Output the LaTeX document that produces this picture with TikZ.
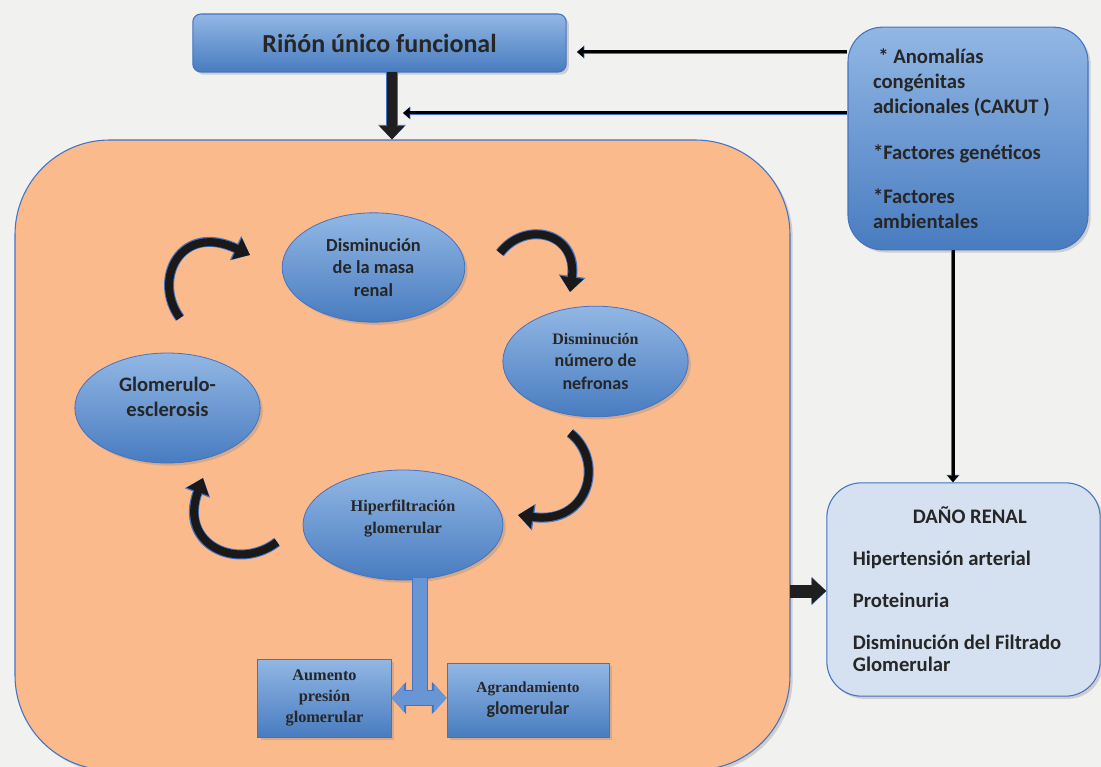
\documentclass[tikz,border=0pt]{standalone}
\usepackage{fontspec}
\setmainfont{Carlito}
\newfontfamily\timesbold{Liberation Serif}
\usepackage{xcolor}
\usepackage{tikz}
\usetikzlibrary{arrows.meta,shapes.geometric,shadows}
\definecolor{bluetop}{RGB}{146,183,228}
\definecolor{bluebot}{RGB}{72,124,192}
\definecolor{blueedge}{RGB}{68,114,196}
\definecolor{barblue}{RGB}{104,150,212}
\definecolor{peach}{RGB}{251,186,140}
\definecolor{paleblue}{RGB}{213,225,240}
\definecolor{paper}{RGB}{241,241,240}
\definecolor{ink}{RGB}{38,38,38}
\newcommand{\normalspaces}{\spaceskip=0pt\xspaceskip=0pt\relax}

\begin{document}
\begin{tikzpicture}[x=0.75pt,y=0.75pt,yscale=-1,xscale=1,
  every node/.style={execute at begin node=\normalspaces},
  softshadow/.style={drop shadow={shadow xshift=2pt,shadow yshift=-2pt,opacity=0.3}},
  bluebox/.style={draw=blueedge,line width=0.8pt,top color=bluetop,bottom color=bluebot,text=ink,softshadow},
  cyclestate/.style={ellipse,bluebox,line width=0.6pt,inner sep=1pt,align=center,font=\bfseries},
  effectbox/.style={bluebox,line width=0.6pt,inner sep=1pt,align=center},
  thinarrow/.style={draw=black,line width=2.25pt,-{Triangle[length=5pt,width=8pt]},
    preaction={draw=blueedge,line width=3.3pt,-{Triangle[length=5.5pt,width=9.5pt]}}},
  blockarrow/.style={draw=black!88,line width=7.5pt,-{Triangle[length=10pt,width=18pt]},
    preaction={draw=blueedge,line width=9pt,-{Triangle[length=11pt,width=20.5pt]}}},
  cyclearrow/.style={draw=black!90,line width=6pt,-{Triangle[length=11pt,width=17pt]},
    preaction={draw=blueedge,line width=7.5pt,-{Triangle[length=12pt,width=19.5pt]}}}
]
\clip (0,0) rectangle (1101,767);
%Background
\fill[paper] (0,0) rectangle (1101,767);

%Rounded Rect [title]
\node[bluebox,rounded corners=6pt,minimum width=280pt,minimum height=43.5pt,
  font=\bfseries\fontsize{19.5}{23}\selectfont] (rinon) at (379.5,43) {Riñón único funcional};
%Rounded Rect [factors]
\node[bluebox,rounded corners=26pt,minimum width=180pt,minimum height=167pt,text width=142.5pt,
  inner xsep=18.75pt,align=left,font=\bfseries\fontsize{15.5}{18.9}\selectfont] (factores) at (968,138.5)
  {\hspace*{4pt}* Anomalías\\ congénitas\\ adicionales (CAKUT )\\[15.6pt] *Factores genéticos\\[14pt] *Factores\\ ambientales};
%Rounded Rect [cycle]
\node[draw=blueedge,line width=0.8pt,fill=peach,rounded corners=71pt,minimum width=581.25pt,
  minimum height=472.5pt,softshadow] (cycle) at (402.5,455) {};
%Rounded Rect [damage]
\node[draw=blueedge,line width=0.8pt,fill=paleblue,rounded corners=26pt,minimum width=205pt,minimum height=160pt,
  text width=166pt,inner xsep=19.5pt,align=left,text=ink,softshadow,
  font=\bfseries\fontsize{15.5}{16.5}\selectfont] (dano) at (963.5,589.5)
  {\hspace*{45pt}DAÑO RENAL\\[15pt] Hipertensión arterial\\[15pt] Proteinuria\\[15pt] Disminución del Filtrado\\ Glomerular};

%Ellipses
\node[cyclestate,minimum width=137pt,minimum height=82pt,font=\bfseries\fontsize{13.8}{16.9}\selectfont] (masa) at (373.5,267.5)
  {Disminución\\ de la masa\\ renal};
\node[cyclestate,minimum width=139pt,minimum height=83pt,font=\bfseries\fontsize{13.5}{16.9}\selectfont] (nefronas) at (595.5,361.5)
  {{\timesbold\fontsize{12}{16.9}\selectfont Disminución}\\ número de\\ nefronas};
\node[cyclestate,minimum width=139pt,minimum height=82.5pt,font=\bfseries\fontsize{15.4}{18.75}\selectfont] (glomesc) at (167.5,408)
  {Glomerulo-\\ esclerosis\\[-2pt]\mbox{}};
\node[cyclestate,minimum width=150pt,minimum height=82.5pt,font=\timesbold\bfseries\fontsize{12.2}{16.5}\selectfont] (hiperf) at (403,525)
  {Hiperfiltración\\ glomerular\\[-4pt]\mbox{}};

%Rectangles
\node[effectbox,minimum width=100pt,minimum height=58.5pt,font=\timesbold\bfseries\fontsize{12.2}{16}\selectfont] (presion) at (324.5,698)
  {Aumento\\ presión\\ glomerular};
\node[effectbox,minimum width=121.5pt,minimum height=55.5pt,font=\bfseries\fontsize{13.6}{16.5}\selectfont] (agrand) at (528,700)
  {{\timesbold\fontsize{11.5}{16.5}\selectfont Agrandamiento}\\ glomerular};

%Coordinates
\coordinate (upend) at (577,52);
\coordinate (midend) at (403,113);
\coordinate (downstart) at (392,72);
\coordinate (vtop) at (953,250);
\coordinate (rightin) at (790,591);
\coordinate (hipout) at (420,578);

%Straight Lines
\draw[thinarrow] (factores.west |- upend) -- (upend);
\draw[thinarrow] (factores.west |- midend) -- (midend);
\draw[thinarrow] (vtop) -- (vtop |- dano.north);
\draw[blockarrow] (downstart) -- (downstart |- cycle.north);
\draw[blockarrow,line width=9.75pt,-{Triangle[length=11pt,width=19pt]}] (rightin) -- (rightin -| dano.west);

%Curve Lines
\draw[cyclearrow] (180,318) .. controls (152,280) and (180,222) .. (250,255);
\draw[cyclearrow] (500,253) .. controls (525,220) and (578,232) .. (570,292);
\draw[cyclearrow] (570,433) .. controls (605,460) and (590,525) .. (518,515);
\draw[cyclearrow] (277,542) .. controls (238,572) and (178,545) .. (203,478);

%Blue Connector
\draw[blueedge,line width=12.5pt] (hipout) -- (hipout |- presion.east);
\draw[blueedge,line width=12.5pt,{Triangle[length=11pt,width=23.5pt]}-{Triangle[length=11pt,width=23.5pt]}] (presion.east) -- (presion.east -| agrand.west);
\draw[barblue,line width=10.5pt] (hipout) -- (hipout |- presion.east);
\draw[barblue,line width=10.5pt,{Triangle[length=9.5pt,width=21pt]}-{Triangle[length=9.5pt,width=21pt]}] (presion.east) -- (presion.east -| agrand.west);

\end{tikzpicture}
\end{document}
